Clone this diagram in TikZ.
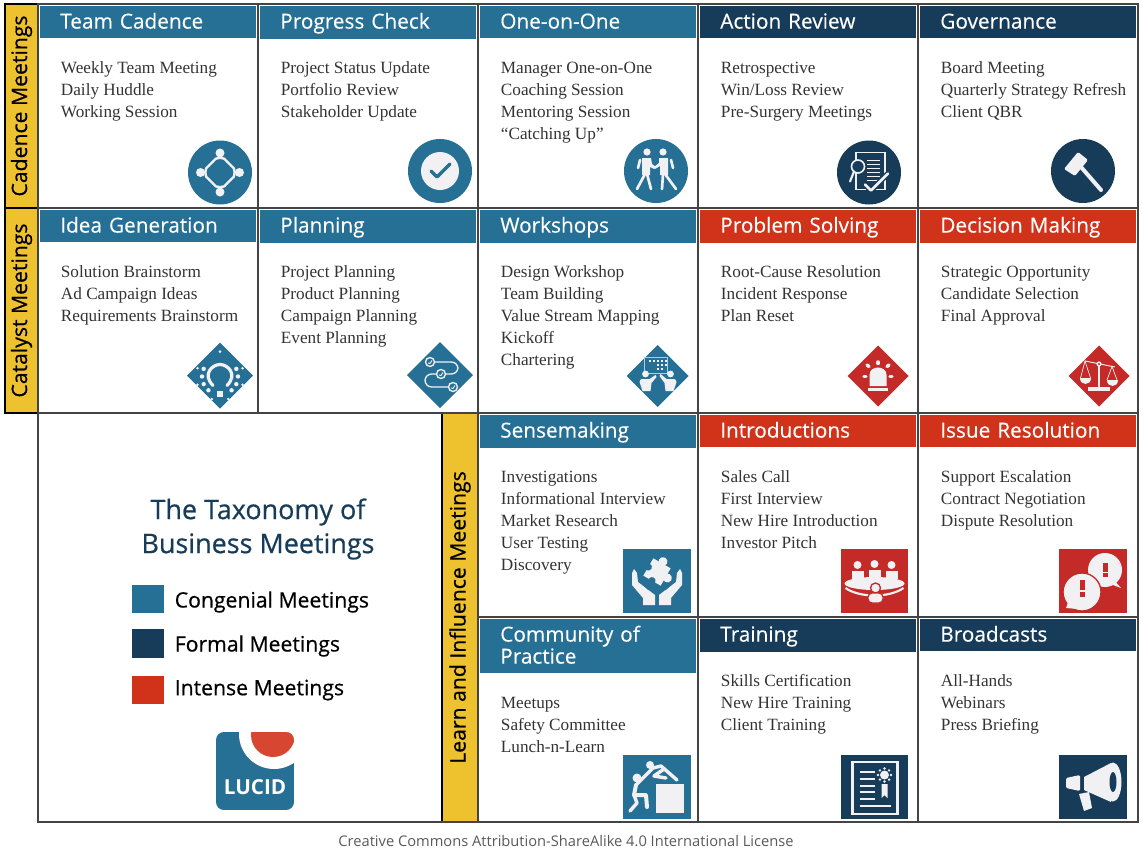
\documentclass[tikz,border=0pt]{standalone}
\usepackage{fontspec}
\usetikzlibrary{positioning}
\setmainfont{Liberation Serif}
\newfontfamily\headfont{Open Sans}
\newfontfamily\titlefont[FakeBold=0.25]{Open Sans}
\newfontfamily\medfont[FakeBold=0.6]{Open Sans}

\definecolor{congenial}{HTML}{266F95}
\definecolor{formal}{HTML}{163C59}
\definecolor{intense}{HTML}{D1321A}
\definecolor{iconred}{HTML}{C42A28}
\definecolor{bandyellow}{HTML}{EEC22E}
\definecolor{iconwhite}{HTML}{F1F1F4}
\definecolor{gridgray}{HTML}{444444}

\tikzset{
    titlebar/.style={anchor=north west, text=white, minimum width=162pt, text width=132pt,
        inner xsep=15pt, inner ysep=3.75pt, align=left,
        font=\titlefont\fontsize{15.6}{16.5}\selectfont},
    itemlist/.style={inner sep=0pt, align=left, text=black!80,
        font=\fontsize{12.9}{16.5}\selectfont},
    band/.style={draw=black, line width=1.2pt, fill=bandyellow, inner sep=0pt, rotate=90,
        align=center, font=\medfont\fontsize{15.9}{18}\selectfont},
    swatch/.style={minimum width=24pt, minimum height=21.5pt, inner sep=0pt},
    legendtext/.style={anchor=west, inner sep=0pt, font=\medfont\fontsize{15.9}{18}\selectfont},
    icon/.style={fill=iconwhite, draw=none},
    iconline/.style={draw=iconwhite, line cap=round, line join=round, line width=2pt},
    gridline/.style={draw=gridgray, line width=1.5pt}
}

\newcommand{\meetingcell}[6]{%
    \node (#1) [titlebar, fill=#4] at (#2, #3) {\rule{0pt}{13pt}#5\rule[-3.4pt]{0pt}{3.4pt}};
    \node (#1items) [itemlist, below right=14.2pt and 15.5pt of #1.south west] {\strut #6};
}

\begin{document}
\begin{tikzpicture}[x=0.75pt, y=-0.75pt]
    \useasboundingbox (0, 0) rectangle (1143, 857);

    % yellow bands
    \node (cadenceband) [band, minimum width=153pt, minimum height=24.5pt] at (21.5, 106) {Cadence Meetings};
    \node (catalystband) [band, minimum width=153.5pt, minimum height=24.5pt] at (21.5, 310.5) {Catalyst Meetings};
    \node (learnband) [band, minimum width=306.5pt, minimum height=27pt] at (460, 617.5) {Learn and Influence Meetings};

    % meeting cells
    \meetingcell{teamcadence}{40}{6}{congenial}{Team Cadence}{Weekly Team Meeting\\Daily Huddle\\Working Session}
    \meetingcell{progresscheck}{260}{6}{congenial}{Progress Check}{Project Status Update\\Portfolio Review\\Stakeholder Update}
    \meetingcell{oneonone}{480}{6}{congenial}{One-on-One}{Manager One-on-One\\Coaching Session\\Mentoring Session\\“Catching Up”}
    \meetingcell{actionreview}{700}{6}{formal}{Action Review}{Retrospective\\Win/Loss Review\\Pre-Surgery Meetings}
    \meetingcell{governance}{920}{6}{formal}{Governance}{Board Meeting\\Quarterly Strategy Refresh\\Client QBR}
    \meetingcell{ideageneration}{40}{210}{congenial}{Idea Generation}{Solution Brainstorm\\Ad Campaign Ideas\\Requirements Brainstorm}
    \meetingcell{planning}{260}{210}{congenial}{Planning}{Project Planning\\Product Planning\\Campaign Planning\\Event Planning}
    \meetingcell{workshops}{480}{210}{congenial}{Workshops}{Design Workshop\\Team Building\\Value Stream Mapping\\Kickoff\\Chartering}
    \meetingcell{problemsolving}{700}{210}{intense}{Problem Solving}{Root-Cause Resolution\\Incident Response\\Plan Reset}
    \meetingcell{decisionmaking}{920}{210}{intense}{Decision Making}{Strategic Opportunity\\Candidate Selection\\Final Approval}
    \meetingcell{sensemaking}{480}{415}{congenial}{Sensemaking}{Investigations\\Informational Interview\\Market Research\\User Testing\\Discovery}
    \meetingcell{introductions}{700}{415}{intense}{Introductions}{Sales Call\\First Interview\\New Hire Introduction\\Investor Pitch}
    \meetingcell{issueresolution}{920}{415}{intense}{Issue Resolution}{Support Escalation\\Contract Negotiation\\Dispute Resolution}
    \meetingcell{community}{480}{619}{congenial}{Community of\\Practice}{Meetups\\Safety Committee\\Lunch-n-Learn}
    \meetingcell{training}{700}{619}{formal}{Training}{Skills Certification\\New Hire Training\\Client Training}
    \meetingcell{broadcasts}{920}{619}{formal}{Broadcasts}{All-Hands\\Webinars\\Press Briefing}

    % grid
    \draw [gridline] (38, 4) -- (1138, 4) -- (1138, 822) -- (38, 822) -- cycle;
    \draw [gridline] (38, 208) -- (1138, 208);
    \draw [gridline] (38, 413) -- (1138, 413);
    \draw [gridline] (478, 617) -- (1138, 617);
    \draw [gridline] (258, 4) -- (258, 413);
    \foreach \x in {478, 698, 918}
        \draw [gridline] (\x, 4) -- (\x, 822);

    % team cadence
    \begin{scope}[shift={(220, 172.5)}]
        \fill [congenial] (0, 0) circle (32);
        \foreach \a in {0, 90, 180, 270} {
            \begin{scope}[rotate=\a]
                \fill [icon] (0, -19.5) circle (4.5);
                \draw [iconline, line width=1.8pt] (-7, -11) .. controls (-5, -16) and (5, -16) .. (7, -11);
                \draw [iconline, line width=1.8pt] (7, -11) -- (11, -7);
            \end{scope}
        }
    \end{scope}

    % progress check
    \begin{scope}[shift={(440, 171)}]
        \fill [congenial] (0, 0) circle (32);
        \fill [icon] (0, 0) circle (19);
        \draw [congenial, line width=2.4pt, line cap=round, line join=round] (-9, 0) -- (-3, 6) -- (10, -7);
    \end{scope}

    % one on one
    \begin{scope}[shift={(656, 171)}]
        \fill [congenial] (0, 0) circle (32);
        \fill [icon] (-9, -19) circle (3.6) (7, -19) circle (3.6);
        \fill [icon] (-14, -13) -- (-5, -13) -- (-4, -7) -- (0, -4) -- (-2, -2) -- (-6, -4) -- (-6, 4) -- (-14, 4) -- cycle;
        \fill [icon] (3, -13) -- (12, -13) -- (12, 4) -- (4, 4) -- (4, -5) -- (-1, -2) -- (-2, -4) -- (3, -8) -- cycle;
        \draw [iconline] (-16, -11) -- (-18, -3);
        \draw [iconline] (15, -11) -- (17, -3);
        \draw [iconline] (-11, 3) -- (-19, 18);
        \draw [iconline] (-9, 3) -- (-5, 18);
        \draw [iconline] (7, 3) -- (6, 18);
        \draw [iconline] (9, 3) -- (20, 18);
    \end{scope}

    % action review
    \begin{scope}[shift={(869, 172.5)}]
        \fill [formal] (0, 0) circle (32);
        \draw [iconwhite, line width=0.8pt] (-13, -20) rectangle (16, 17);
        \foreach \y in {-12, -8, -4, 0, 4, 8}
            \draw [iconwhite, line width=1pt] (-2, \y) -- (11, \y);
        \draw [fill=formal, draw=iconwhite, line width=1.2pt] (-11, -6) circle (6.5);
        \draw [iconline, line width=1.6pt] (-15, -1) -- (-19, 9);
        \draw [formal, line width=4pt, line join=round] (-4, 12) -- (2, 18) -- (19, 1);
        \draw [iconline, line width=2pt] (-4, 12) -- (2, 18) -- (19, 1);
    \end{scope}

    % governance
    \begin{scope}[shift={(1083, 171)}]
        \fill [formal] (0, 0) circle (32);
        \fill [icon, rounded corners=1pt] (-19, -2) -- (-5, -19) -- (5, -11) -- (-8, 5) -- cycle;
        \draw [iconline, line width=3pt] (-2, -4) -- (18, 19);
    \end{scope}

    % idea generation
    \begin{scope}[shift={(220, 375.5)}]
        \fill [congenial] (-33, 0) -- (0, -33) -- (33, 0) -- (0, 33) -- cycle;
        \draw [iconline, line width=2.4pt] (-7, 10) .. controls (-18, -1) and (-8, -11) .. (0, -11) .. controls (8, -11) and (18, -1) .. (7, 10);
        \foreach \a in {-25, 0, 25, 50, 90, 130, 155, 180, 205}
            \fill [icon] (\a:18) ++(0, 1) circle (2.2);
        \foreach \a in {-20, 20, 70, 110, 160, 200}
            \fill [icon] (\a:24) ++(0, 1) circle (1.4);
        \fill [icon] (0, -24) circle (1.5);
        \fill [icon] (-3, 15) rectangle (3, 21);
    \end{scope}

    % planning
    \begin{scope}[shift={(440, 375)}]
        \fill [congenial] (-33, 0) -- (0, -33) -- (33, 0) -- (0, 33) -- cycle;
        \draw [iconwhite, line width=1pt, rounded corners=5pt] (-10, -13) -- (18, -13) -- (18, -1) -- (-15, -1) -- (-15, 12) -- (13, 12);
        \foreach \u/\v in {-10/-13, 1/-1, 13/12} {
            \draw [fill=congenial, draw=iconwhite, line width=1pt] (\u, \v) circle (4.5);
            \draw [iconwhite, line width=0.7pt] (\u-2, \v+1) -- (\u, \v+1.5) -- (\u+2, \v-1.5);
        }
    \end{scope}

    % workshops
    \begin{scope}[shift={(657.5, 376)}]
        \fill [congenial] (-31, 0) -- (0, -31) -- (31, 0) -- (0, 31) -- cycle;
        \draw [iconwhite!70!congenial, line width=0.6pt] (-13, -19) rectangle (10, -3);
        \foreach \u/\v in {-9/-16, -5/-16, -1/-16, 3/-16, 7/-16, -1/-12, 3/-12, 7/-12, -1/-8, 3/-8}
            \fill [icon] (\u, \v) rectangle ++(2, 2);
        \fill [icon] (-12, -2) circle (3.4) (13, -2) circle (3.4);
        \fill [icon] (-18, 6) .. controls (-18, 3) and (-16, 3) .. (-14, 3) -- (-8, 3) -- (-2, -1) -- (-1, 1) -- (-6, 7) -- (-7, 15) -- (-15, 15) -- cycle;
        \fill [icon] (19, 6) .. controls (19, 3) and (17, 3) .. (15, 3) -- (9, 3) -- (3, -2) -- (2, 0) -- (7, 7) -- (8, 15) -- (16, 15) -- cycle;
    \end{scope}

    % problem solving
    \begin{scope}[shift={(878, 376)}]
        \fill [iconred] (-30.5, 0) -- (0, -30.5) -- (30.5, 0) -- (0, 30.5) -- cycle;
        \fill [icon] (-8.5, 10) -- (-8.5, -1) .. controls (-8.5, -11) and (8.5, -11) .. (8.5, -1) -- (8.5, 10) -- cycle;
        \fill [icon] (-10, 11.5) rectangle (10, 15);
        \draw [iconline, line width=2.6pt] (0, -14) -- (0, -12.5);
        \draw [iconline, line width=2.6pt] (-11, -11) -- (-9, -9.5);
        \draw [iconline, line width=2.6pt] (11, -11) -- (9, -9.5);
        \draw [iconline, line width=2.6pt] (-14, 0.5) -- (-12, 0.5);
        \draw [iconline, line width=2.6pt] (14, 0.5) -- (12, 0.5);
    \end{scope}

    % decision making
    \begin{scope}[shift={(1099, 376)}]
        \fill [iconred] (-30.5, 0) -- (0, -30.5) -- (30.5, 0) -- (0, 30.5) -- cycle;
        \draw [iconwhite, line width=0.7pt] (-14, -15) -- (16, -9);
        \draw [iconwhite, line width=1.4pt] (0, -10) -- (0, 12);
        \fill [icon] (0, -12) circle (2.6);
        \fill [iconred] (0, -12) circle (1.2);
        \draw [iconwhite, line width=0.5pt] (-18.5, 2) -- (-14, -15) -- (-8.5, 2);
        \draw [iconwhite, line width=0.5pt] (8, 4) -- (13, -9.5) -- (18, 4);
        \fill [icon] (-19, 2) .. controls (-19, 10) and (-8, 10) .. (-8, 2) -- cycle;
        \fill [icon] (7.5, 4) .. controls (7.5, 12) and (18.5, 12) .. (18.5, 4) -- cycle;
        \fill [icon] (-11, 11) rectangle (11, 15);
    \end{scope}

    % sensemaking
    \begin{scope}[shift={(657, 581)}]
        \fill [congenial] (-34, -32) rectangle (34, 32);
        \fill [icon] (-25, -8) -- (-23, -12) -- (-20, -8) -- (-19, 1) -- (-2, 14) -- (-2, 24) -- (-14, 24) -- (-14, 17) -- (-25, 4) -- cycle;
        \fill [icon] (25, -8) -- (23, -12) -- (20, -8) -- (19, 1) -- (2, 14) -- (2, 24) -- (14, 24) -- (14, 17) -- (25, 4) -- cycle;
        \draw [congenial, line width=0.7pt] (-17, 1) -- (-8, 9);
        \draw [congenial, line width=0.7pt] (17, 1) -- (8, 9);
        \begin{scope}[shift={(0, -9)}, rotate=-30]
            \fill [icon] (-10, -10) rectangle (10, 10);
            \fill [icon] (0, -12) circle (4.5) (12, 0) circle (4.5);
            \fill [congenial] (-10, 0) circle (3.6) (0, 10) circle (3.6);
        \end{scope}
    \end{scope}

    % introductions
    \begin{scope}[shift={(874.5, 581)}]
        \fill [iconred] (-33.5, -32) rectangle (33.5, 32);
        \foreach \u/\v in {-17/-16, 0/-17, 17/-16} {
            \fill [icon] (\u, \v) circle (4);
            \fill [icon] (\u-6, \v+6) rectangle (\u+6, -2);
        }
        \fill [icon] (0, 2.5) ellipse (30 and 6.5);
        \draw [iconwhite, line width=1.6pt] (-29, 7) .. controls (-15, 17) and (15, 17) .. (29, 7);
        \draw [icon, draw=iconred, line width=1pt] (1, 7) circle (5);
        \draw [icon, draw=iconred, line width=1pt, rounded corners=3pt] (-6.5, 22) -- (-6.5, 12) -- (8.5, 12) -- (8.5, 22) -- cycle;
    \end{scope}

    % issue resolution
    \begin{scope}[shift={(1093, 581)}]
        \fill [iconred] (-34, -32) rectangle (34, 32);
        \fill [icon] (28, 7) -- (12, 1) -- (20, -2) -- cycle;
        \fill [icon] (12, -11) circle (17);
        \draw [icon, draw=iconred, line width=1pt] (-11, 11) circle (19);
        \fill [icon] (-27, 27) -- (-15, 28) -- (-24, 18) -- cycle;
        \fill [iconred] (-13.5, -1) rectangle (-8.5, 9);
        \fill [iconred] (-13.5, 11) rectangle (-8.5, 16);
        \fill [iconred] (9.5, -18) rectangle (14.5, -9);
        \fill [iconred] (9.5, -8) rectangle (14.5, -4);
    \end{scope}

    % community of practice
    \begin{scope}[shift={(657, 787)}]
        \fill [congenial] (-34, -32) rectangle (34, 32);
        \fill [icon] (-1, -3) rectangle (27, 26);
        \fill [icon] (-7, -22) circle (4);
        \fill [icon] (-20, -9) circle (4.5);
        \draw [iconline, line width=2.6pt] (-21, -2) -- (-4, -19) -- (4, -21) -- (20, -7);
        \draw [iconline, line width=2.6pt] (7, -18) -- (-3, -11) -- (9, -9);
        \draw [iconline, line width=3pt] (-21, -2) -- (-23, 8) -- (-11, 8) -- (-10, 20);
        \draw [iconline, line width=2.6pt] (-23, 8) -- (-20, 16) -- (-27, 24);
    \end{scope}

    % training
    \begin{scope}[shift={(874.5, 787)}]
        \fill [formal] (-33.5, -32) rectangle (33.5, 32);
        \draw [iconwhite, line width=1.8pt] (-22, -25) rectangle (23, 27);
        \foreach \y in {-15, -8, -1, 5, 12}
            \draw [iconwhite, line width=1.5pt] (-15, \y) -- (0, \y);
        \draw [iconwhite, line width=1.5pt] (-15, 19) -- (16, 19);
        \fill [icon] (10, -12) circle (4.5);
        \foreach \a in {0, 45, ..., 315}
            \fill [icon] (10, -12) ++(\a:6.5) circle (1.3);
        \fill [icon] (7, -3) -- (13, -3) -- (13, 11) -- (10, 8) -- (7, 11) -- cycle;
    \end{scope}

    % broadcasts
    \begin{scope}[shift={(1093, 787)}]
        \fill [formal] (-34, -32) rectangle (34, 32);
        \fill [icon, rounded corners=1pt] (-27, -9) -- (-13, -12) -- (-13, 4) -- (-27, 1) -- cycle;
        \fill [icon] (-9, -10) -- (18, -24) -- (18, 15) -- (-9, 3) -- cycle;
        \fill [icon] (-14, 7) -- (-4, 5) -- (-1, 21) -- (-9, 24) -- cycle;
        \fill [icon] (20, -5) ellipse (8.5 and 19.5);
        \fill [formal] (20, -5) ellipse (3.5 and 10);
    \end{scope}

    % taxonomy panel
    \node (taxonomy) [inner sep=0pt, align=center, text=formal, font=\medfont\fontsize{20.2}{25.5}\selectfont] at (258, 529) {The Taxonomy of\\Business Meetings};

    \node (congenialkey) [swatch, fill=congenial] at (147.5, 599) {};
    \node (formalkey) [swatch, fill=formal] at (147.5, 643.5) {};
    \node (intensekey) [swatch, fill=intense] at (147.5, 690) {};
    \node (congeniallabel) [legendtext] at (174.5, 602) {Congenial Meetings};
    \node (formallabel) [legendtext] at (174.5, 646) {Formal Meetings};
    \node (intenselabel) [legendtext] at (174.5, 690) {Intense Meetings};

    % logo
    \begin{scope}
        \path [clip, rounded corners=6pt] (216, 732) rectangle (294, 810);
        \fill [congenial] (216, 732) rectangle (294, 810);
        \fill [white] (274, 734) circle (35);
        \fill [intense!90!white] (273, 735) circle (22);
    \end{scope}
    \node (lucid) [inner sep=0pt, text=white, font=\headfont\bfseries\fontsize{15.5}{18}\selectfont] at (255, 787) {LUCID};

    \node (license) [inner sep=0pt, text=black!65, font=\headfont\fontsize{11}{13}\selectfont] at (566, 841) {Creative Commons Attribution-ShareAlike 4.0 International License};
\end{tikzpicture}
\end{document}
